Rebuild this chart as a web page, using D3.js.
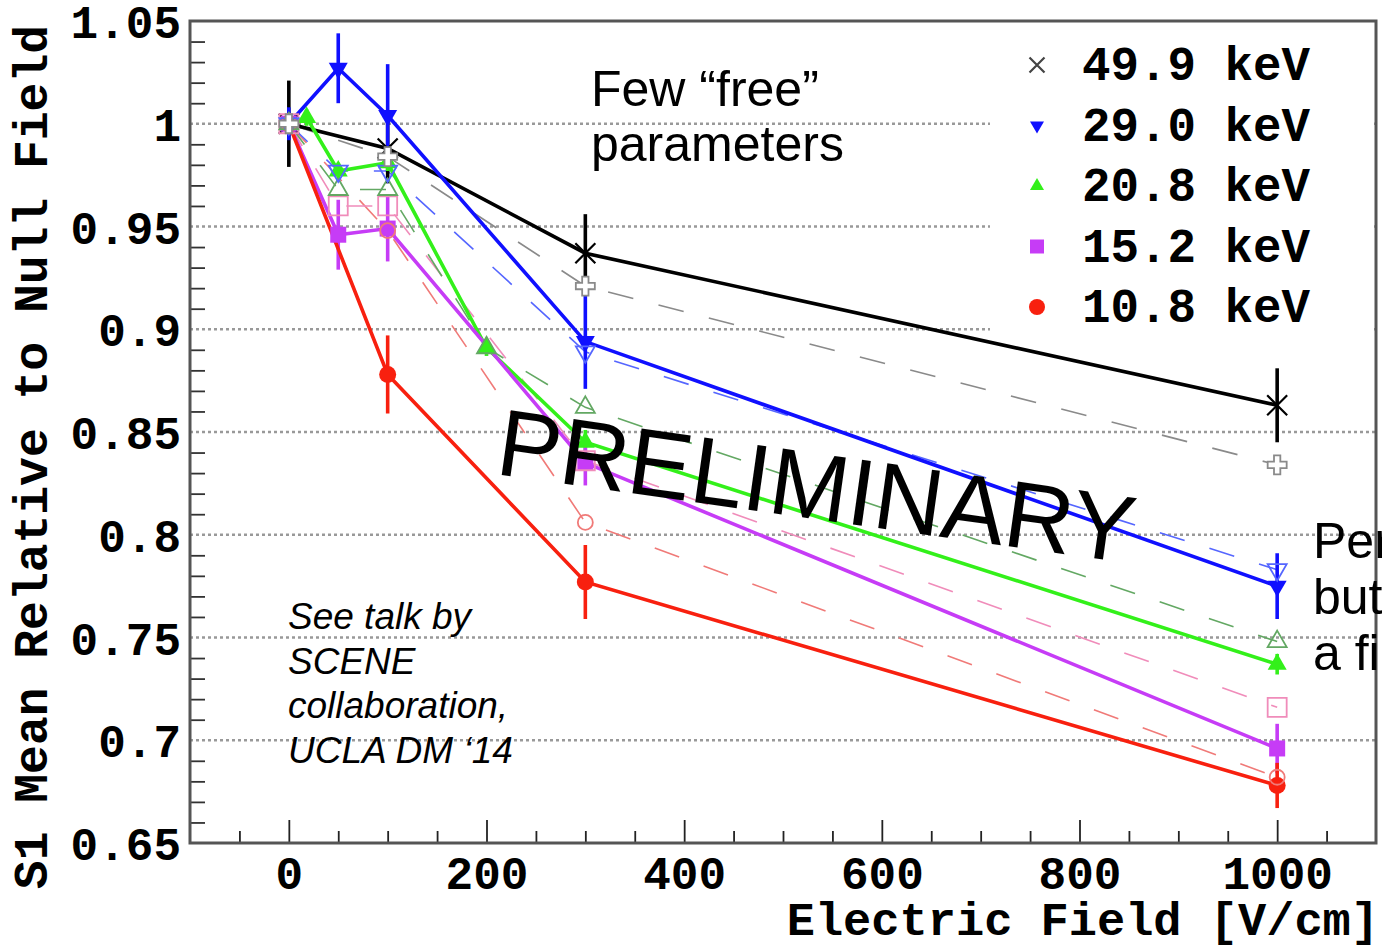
<!DOCTYPE html>
<html lang="en">
<head>
<meta charset="utf-8">
<title>S1 mean vs electric field</title>
<script src="https://d3js.org/d3.v7.min.js"></script>
<style type="text/css">
  body { margin: 0; background: #fff; }
  .mono { font-family: "Liberation Mono", "DejaVu Sans Mono", monospace; font-weight: bold; }
  .sans { font-family: "Liberation Sans", Arial, sans-serif; }
</style>
</head>
<body>
<div id="chart"></div>
<script type="text/javascript">

// measured points (filled markers, solid lines)
var labels = ["49.9 keV", "29.0 keV", "20.8 keV", "15.2 keV", "10.8 keV"];

var blackField = [0, 100, 300, 1000];
var blackMean  = [1.0, 0.988, 0.937, 0.863];
var blackErr   = [0.021, 0.017, 0.019, 0.018];

var blueField = [0, 50, 100, 300, 1000];
var blueMean  = [1.0, 1.027, 1.004, 0.894, 0.775];
var blueErr   = [0.008, 0.017, 0.025, 0.023, 0.016];

var greenField = [0, 18, 50, 100, 200, 300, 1000];
var greenMean  = [1.0, 1.003, 0.977, 0.981, 0.891, 0.845, 0.737];
var greenErr   = [0.004, 0.004, 0.004, 0.004, 0.004, 0.006, 0.005];

var magentaField = [0, 50, 100, 300, 1000];
var magentaMean  = [1.0, 0.946, 0.949, 0.835, 0.696];
var magentaErr   = [0.005, 0.017, 0.016, 0.011, 0.012];

var redField = [0, 100, 300, 1000];
var redMean  = [1.0, 0.878, 0.777, 0.678];
var redErr   = [0.005, 0.019, 0.018, 0.011];

// open markers, thin dashed lines
var blackOpenField = [0, 100, 300, 1000];
var blackOpenMean  = [1.0, 0.984, 0.921, 0.834];
var blueOpenField = [0, 50, 100, 300, 1000];
var blueOpenMean  = [1.0, 0.977, 0.977, 0.889, 0.783];
var greenOpenField = [0, 50, 100, 200, 300, 1000];
var greenOpenMean  = [1.0, 0.968, 0.968, 0.891, 0.862, 0.748];
var magentaOpenField = [0, 50, 100, 300, 1000];
var magentaOpenMean  = [1.0, 0.960, 0.960, 0.836, 0.716];
var redOpenField = [0, 100, 300, 1000];
var redOpenMean  = [1.0, 0.948, 0.806, 0.682];

var xMajor = [0, 200, 400, 600, 800, 1000];
var xMinor = [-50, 50, 100, 150, 250, 300, 350, 450, 500, 550, 650, 700, 750, 850, 900, 950, 1050];
var yMajor = [0.65, 0.7, 0.75, 0.8, 0.85, 0.9, 0.95, 1, 1.05];
var yGrid  = [0.7, 0.75, 0.8, 0.85, 0.9, 0.95, 1];

function zip(f, m, e) {
  return f.map(function(d, i) { return {f: d, m: m[i], e: e ? e[i] : 0}; });
}

var filled = [
  {name: labels[0], color: "#000000", shape: "x",    pts: zip(blackField, blackMean, blackErr)},
  {name: labels[1], color: "#1010ff", shape: "down", pts: zip(blueField, blueMean, blueErr)},
  {name: labels[2], color: "#33f01a", shape: "up",   pts: zip(greenField, greenMean, greenErr)},
  {name: labels[3], color: "#c63cf6", shape: "sq",   pts: zip(magentaField, magentaMean, magentaErr)},
  {name: labels[4], color: "#f8200f", shape: "circ", pts: zip(redField, redMean, redErr)}
];
var open = [
  {color: "#f07a78", shape: "circ", pts: zip(redOpenField, redOpenMean)},
  {color: "#f08cba", shape: "sq",   pts: zip(magentaOpenField, magentaOpenMean)},
  {color: "#63a863", shape: "up",   pts: zip(greenOpenField, greenOpenMean)},
  {color: "#5566ff", shape: "down", pts: zip(blueOpenField, blueOpenMean)},
  {color: "#8a8a8a", shape: "plus", pts: zip(blackOpenField, blackOpenMean)}
];

var W = 1382, H = 946;
var x = d3.scaleLinear().domain([-100, 1100]).range([190, 1376]);
var y = d3.scaleLinear().domain([0.65, 1.05]).range([843, 21]);

var svg = d3.select("#chart").append("svg")
  .attr("width", W).attr("height", H);

// grid
svg.append("g").selectAll("line").data(yGrid).enter().append("line")
  .attr("x1", x(-100)).attr("x2", x(1100))
  .attr("y1", function(d) { return y(d); }).attr("y2", function(d) { return y(d); })
  .attr("stroke", "#999").attr("stroke-width", 2.4).attr("stroke-dasharray", "3,3");

// legend background hides grid
svg.append("rect").attr("x", 990).attr("y", 36).attr("width", 384).attr("height", 306).attr("fill", "#fff");

function shapePath(shape, s) {
  if (shape === "down" || shape === "up") return d3.symbol().type(d3.symbolTriangle).size(s * s * 0.433)();
  if (shape === "sq") return d3.symbol().type(d3.symbolSquare).size(s * s)();
  if (shape === "circ") return d3.symbol().type(d3.symbolCircle).size(Math.PI * s * s / 4)();
  if (shape === "plus") return d3.symbol().type(d3.symbolCross).size(5 * (s / 3) * (s / 3))();
  var h = s / 2;
  return "M" + (-h) + "," + (-h) + "L" + h + "," + h + "M" + (-h) + "," + h + "L" + h + "," + (-h);
}
function drawMarker(g, shape, color, s, isOpen) {
  var p = g.append("path").attr("d", shapePath(shape, s));
  if (shape === "down") p.attr("transform", "rotate(180)");
  if (shape === "x") {
    p.attr("fill", "none").attr("stroke", color).attr("stroke-width", 2.2);
  } else if (isOpen) {
    p.attr("fill", shape === "plus" ? "#fff" : "none").attr("stroke", color).attr("stroke-width", 1.8);
  } else {
    p.attr("fill", color);
  }
}

var line = d3.line().x(function(d) { return x(d.f); }).y(function(d) { return y(d.m); });

// dashed reference series
open.forEach(function(s) {
  svg.append("path").datum(s.pts).attr("d", line)
    .attr("fill", "none").attr("stroke", s.color).attr("stroke-width", 1.6)
    .attr("stroke-dasharray", "26,26");
});

// measured lines and error bars
filled.forEach(function(s) {
  svg.append("path").datum(s.pts).attr("d", line)
    .attr("fill", "none").attr("stroke", s.color).attr("stroke-width", 3.6);
  svg.append("g").selectAll("line").data(s.pts).enter().append("line")
    .attr("x1", function(d) { return x(d.f); }).attr("x2", function(d) { return x(d.f); })
    .attr("y1", function(d) { return y(d.m - d.e); }).attr("y2", function(d) { return y(d.m + d.e); })
    .attr("stroke", s.color).attr("stroke-width", 3.6);
});

// filled markers
filled.forEach(function(s) {
  svg.append("g").selectAll("g").data(s.pts).enter().append("g")
    .attr("transform", function(d) { return "translate(" + x(d.f) + "," + y(d.m) + ")"; })
    .each(function() {
      var sz = s.shape === "x" ? 20 : (s.shape === "sq" ? 16 : (s.shape === "circ" ? 17 : 19));
      drawMarker(d3.select(this), s.shape, s.color, sz, false);
    });
});

// open markers on top
open.forEach(function(s) {
  svg.append("g").selectAll("g").data(s.pts).enter().append("g")
    .attr("transform", function(d) { return "translate(" + x(d.f) + "," + y(d.m) + ")"; })
    .each(function() { drawMarker(d3.select(this), s.shape, s.color, s.shape === "circ" ? 15 : 19, true); });
});

// axes
var fmt = function(d) { return String(+d.toFixed(2)); };

var yAxis = svg.append("g").attr("transform", "translate(190,2)")
  .call(d3.axisLeft(y).tickValues(yMajor).tickSize(0).tickPadding(9).tickFormat(fmt));
yAxis.select(".domain").remove();
yAxis.selectAll("text").attr("class", "mono").attr("font-size", 46).attr("fill", "#000");

var yMinorVals = d3.range(65, 106).filter(function(v) { return v % 5 !== 0; }).map(function(v) { return v / 100; });
var yMin = svg.append("g").attr("transform", "translate(190,0)")
  .call(d3.axisLeft(y).tickValues(yMinorVals).tickSize(-15).tickFormat(""));
yMin.select(".domain").remove();
yMin.selectAll("line").attr("stroke", "#333").attr("stroke-width", 1.8);

var xAxis = svg.append("g").attr("transform", "translate(0,843)")
  .call(d3.axisBottom(x).tickValues(xMajor).tickSize(-23).tickPadding(13).tickFormat(d3.format("d")));
xAxis.select(".domain").remove();
xAxis.selectAll("line").attr("stroke", "#222").attr("stroke-width", 1.8);
xAxis.selectAll("text").attr("class", "mono").attr("font-size", 46).attr("fill", "#000");

var xMin = svg.append("g").attr("transform", "translate(0,843)")
  .call(d3.axisBottom(x).tickValues(xMinor).tickSize(-12).tickFormat(""));
xMin.select(".domain").remove();
xMin.selectAll("line").attr("stroke", "#222").attr("stroke-width", 1.8);

// frame
svg.append("rect").attr("x", x(-100)).attr("y", y(1.05))
  .attr("width", x(1100) - x(-100)).attr("height", y(0.65) - y(1.05))
  .attr("fill", "none").attr("stroke", "#555").attr("stroke-width", 3);

// axis titles
svg.append("text").attr("class", "mono").attr("font-size", 47)
  .attr("x", 1379).attr("y", 935).attr("text-anchor", "end").text("Electric Field [V/cm]");
svg.append("text").attr("class", "mono").attr("font-size", 48)
  .attr("transform", "translate(47,25) rotate(-90)").attr("text-anchor", "end")
  .text("S1 Mean Relative to Null Field");

// legend
var leg = svg.append("g").selectAll("g").data(filled).enter().append("g")
  .attr("transform", function(d, i) { return "translate(0," + (80 + i * 60.5) + ")"; });
leg.each(function(d) {
  var g = d3.select(this);
  var m = g.append("g").attr("transform", "translate(1037,-15)");
  if (d.shape === "x") drawMarker(m, "x", "#444", 15, false);
  else drawMarker(m, d.shape, d.color, d.shape === "circ" ? 16 : 14, false);
  g.append("text").attr("class", "mono").attr("font-size", 47.5).attr("x", 1082).attr("y", 0).text(d.name);
});

// annotations
var few = svg.append("text").attr("class", "sans").attr("font-size", 50).attr("fill", "#000");
few.append("tspan").attr("x", 591).attr("y", 106).text("Few \u201cfree\u201d");
few.append("tspan").attr("x", 591).attr("y", 161).text("parameters");

var talk = svg.append("text").attr("class", "sans").attr("font-size", 37).attr("font-style", "italic");
["See talk by", "SCENE", "collaboration,", "UCLA DM \u201814"].forEach(function(t, i) {
  talk.append("tspan").attr("x", 288).attr("y", 629 + i * 44.7).text(t);
});

var per = svg.append("text").attr("class", "sans").attr("font-size", 50);
["Per", "but", "a fi"].forEach(function(t, i) {
  per.append("tspan").attr("x", 1313).attr("y", 558 + i * 56).text(t);
});

svg.append("text").attr("class", "sans").attr("font-size", 95)
  .attr("transform", "translate(494,474) rotate(8)").text("PRELIMINARY");

</script>
</body>
</html>
